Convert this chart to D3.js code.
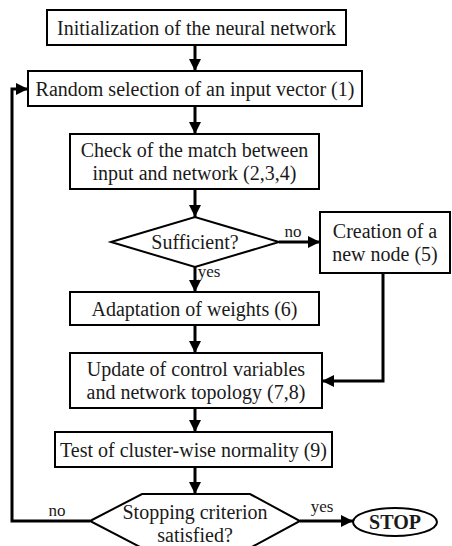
<!DOCTYPE html>
<html>
<head>
<meta charset="utf-8">
<script src="https://cdn.jsdelivr.net/npm/d3@7"></script>
</head>
<body style="margin:0">
<script>
// node labels (one array entry per line of text)
const nodeIds = ['init', 'random', 'check', 'suff', 'create', 'adapt', 'update', 'test', 'stopq', 'stop'];
const nodeLabels = [
  ['Initialization of the neural network'],
  ['Random selection of an input vector (1)'],
  ['Check of the match between', 'input and network (2,3,4)'],
  ['Sufficient?'],
  ['Creation of a', 'new node (5)'],
  ['Adaptation of weights (6)'],
  ['Update of control variables', 'and network topology (7,8)'],
  ['Test of cluster-wise normality (9)'],
  ['Stopping criterion', 'satisfied?'],
  ['STOP']
];
const nodeShapes = ['rect', 'rect', 'rect', 'diamond', 'rect', 'rect', 'rect', 'rect', 'hexagon', 'ellipse'];
const edgeLabels = ['no', 'yes', 'no', 'yes'];

const W = 452, H = 546;
const FONT = "'Liberation Serif'";

// layout of the boxes (x0, y0, x1, y1)
const layout = {
  init:   [47, 10, 346, 45],
  random: [28, 71, 362, 106],
  check:  [70, 134, 319, 189],
  suff:   [111, 217, 279, 267],
  create: [320, 212, 450, 273],
  adapt:  [70, 292, 319, 325],
  update: [70, 353, 322, 408],
  test:   [55, 432, 332, 467],
  stopq:  [90, 494, 300, 548],
  stop:   [353, 508, 437, 536]
};
const cx = 195;

const svg = d3.select('body').append('svg')
  .attr('width', W).attr('height', H);

svg.append('defs').append('marker')
  .attr('id', 'arrow')
  .attr('markerUnits', 'userSpaceOnUse')
  .attr('viewBox', '0 0 12 12')
  .attr('refX', 12).attr('refY', 6)
  .attr('markerWidth', 12).attr('markerHeight', 12)
  .attr('orient', 'auto')
  .append('path').attr('d', 'M0,0 L12,6 L0,12 Z').attr('fill', '#000');

const line = d3.line();

// edges as polylines
const edges = [
  [[cx, 45], [cx, 71]],
  [[cx, 106], [cx, 134]],
  [[cx, 189], [cx, 217]],
  [[279, 242], [320, 242]],
  [[cx, 267], [cx, 292]],
  [[cx, 325], [cx, 353]],
  [[383, 273], [383, 381], [322, 381]],
  [[cx, 408], [cx, 432]],
  [[cx, 467], [cx, 494]],
  [[90, 521], [12, 521], [12, 89], [28, 89]],
  [[300, 521], [353, 521]]
];

svg.append('g').selectAll('path')
  .data(edges)
  .enter()
  .append('path')
  .attr('d', d => line(d))
  .attr('fill', 'none')
  .attr('stroke', '#000')
  .attr('stroke-width', 3)
  .attr('marker-end', 'url(#arrow)');

// shapes
const g = svg.append('g');
nodeIds.forEach((id, i) => {
  const [x0, y0, x1, y1] = layout[id];
  const mx = (x0 + x1) / 2, my = (y0 + y1) / 2;
  const shape = nodeShapes[i];
  let el;
  if (shape === 'rect') {
    el = g.append('rect').attr('x', x0).attr('y', y0)
      .attr('width', x1 - x0).attr('height', y1 - y0);
  } else if (shape === 'diamond') {
    el = g.append('path').attr('d', line([[x0, my], [cx, y0], [x1, my], [cx, y1]]) + 'Z');
  } else if (shape === 'hexagon') {
    el = g.append('path').attr('d', line([[x0, 521], [142, y0], [250, y0], [x1, 521], [250, y1], [142, y1]]) + 'Z');
  } else {
    el = g.append('ellipse').attr('cx', mx).attr('cy', my)
      .attr('rx', (x1 - x0) / 2).attr('ry', (y1 - y0) / 2);
  }
  el.attr('fill', '#fff').attr('stroke', '#000').attr('stroke-width', 2);

  const lines = nodeLabels[i];
  const lh = 23;
  const ty = shape === 'hexagon' ? 519 : my - (lines.length - 1) * lh / 2 + 7;
  const tx = shape === 'diamond' || shape === 'hexagon' ? cx : mx;
  lines.forEach((s, k) => {
    g.append('text')
      .attr('x', tx)
      .attr('y', ty + k * lh)
      .attr('text-anchor', 'middle')
      .attr('font-size', 20)
      .attr('fill', '#1a1a1a')
      .style('font-family', FONT)
      .style('font-weight', shape === 'ellipse' ? 'bold' : 'normal')
      .text(s);
  });
});

// edge labels
const labelPos = [[293, 237], [209, 277], [57, 516], [322, 512]];
svg.append('g').selectAll('text')
  .data(edgeLabels)
  .enter()
  .append('text')
  .attr('x', (d, i) => labelPos[i][0])
  .attr('y', (d, i) => labelPos[i][1])
  .attr('text-anchor', 'middle')
  .attr('font-size', 17)
  .attr('fill', '#1a1a1a')
  .style('font-family', FONT)
  .text(d => d);
</script>
</body>
</html>
